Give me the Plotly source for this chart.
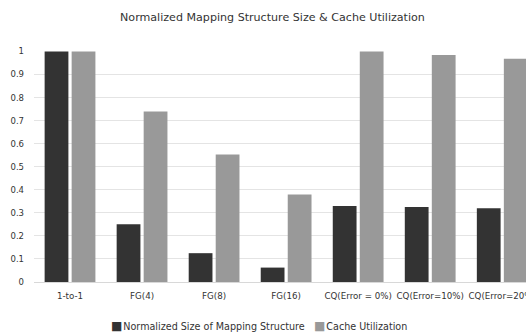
import plotly.graph_objects as go

# Configurations compared
categories = ["1-to-1", "FG(4)", "FG(8)", "FG(16)",
              "CQ(Error = 0%)", "CQ(Error=10%)", "CQ(Error=20%)"]

# Normalized size of the mapping structure (1-to-1 = 1)
mapping_size = [1.0, 0.25, 0.125, 0.0625, 0.33, 0.325, 0.32]

# Fraction of cache actually utilized
cache_util = [1.0, 0.74, 0.553, 0.38, 1.0, 0.985, 0.968]

series_names = ["Normalized Size of Mapping Structure", "Cache Utilization"]
series_colors = ["#333333", "#999999"]

y_ticks = [0, 0.1, 0.2, 0.3, 0.4, 0.5, 0.6, 0.7, 0.8, 0.9, 1]
y_tick_text = ["0", "0.1", "0.2", "0.3", "0.4", "0.5", "0.6", "0.7", "0.8", "0.9", "1"]

FONT = "DejaVu Sans"
TEXT = "#333333"
W, H = 526, 332
L, R, T, B = 34, 0, 51, 50

fig = go.Figure()
for name, vals, col in zip(series_names, [mapping_size, cache_util], series_colors):
    fig.add_trace(go.Bar(
        x=categories, y=vals, name=name,
        marker=dict(color=col, line=dict(width=0)),
    ))

# Compact legend row under the axis: coloured square followed by the name
legend_x_px = [110, 313]
for name, col, xp in zip(series_names, series_colors, legend_x_px):
    fig.add_annotation(
        text=(f'<span style="color:{col};font-size:12px">■</span>'
              f'<span style="font-size:3px"> </span>{name}'),
        xref="paper", yref="paper",
        x=(xp - L) / (W - L - R), y=-(326 - (H - B)) / (H - T - B),
        xanchor="left", yanchor="middle", showarrow=False,
        borderpad=0, font=dict(family=FONT, size=9.6, color=TEXT),
    )

fig.update_layout(
    width=W, height=H,
    margin=dict(l=L, r=R, t=T, b=B, autoexpand=False),
    paper_bgcolor="white", plot_bgcolor="white",
    barmode="group", bargap=0.25, bargroupgap=0.12,
    title=dict(text="Normalized Mapping Structure Size & Cache Utilization",
               x=0.518, xref="container", xanchor="center",
               y=1 - 17 / H, yref="container", yanchor="middle",
               font=dict(family=FONT, size=11.1, color=TEXT)),
    font=dict(family=FONT, size=8.5, color=TEXT),
    showlegend=False,
    xaxis=dict(type="category", range=[-0.5, 6.33], autorange=False,
               automargin=False,
               showgrid=False, showline=False, ticks="",
               ticklabelstandoff=7, tickfont=dict(size=8.7, color=TEXT)),
    yaxis=dict(range=[0, 1.002], autorange=False, automargin=False,
               tickvals=y_ticks, ticktext=y_tick_text,
               showgrid=True, gridcolor="#e4e4e4", gridwidth=1,
               zeroline=True, zerolinecolor="#d8d8d8", zerolinewidth=1,
               showline=False, ticks="", ticklabelstandoff=9,
               tickfont=dict(size=8.5, color=TEXT)),
)

fig.write_html("out.html")
